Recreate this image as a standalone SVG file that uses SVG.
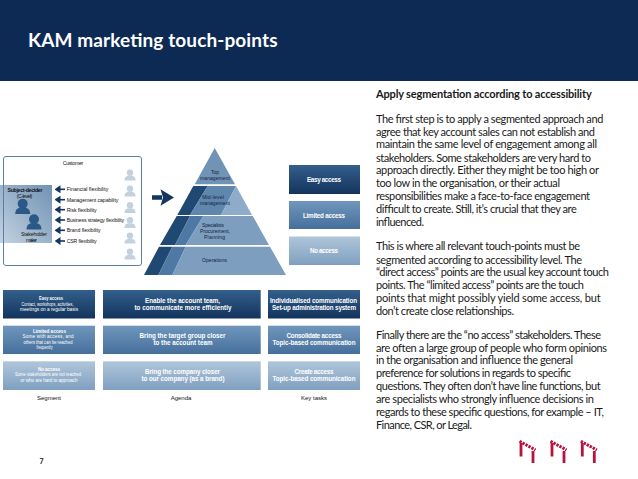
<svg xmlns="http://www.w3.org/2000/svg" xmlns:xlink="http://www.w3.org/1999/xlink" width="638" height="479" viewBox="0 0 638 479">
<style>
text{font-family:"Lato","Liberation Sans",sans-serif}
.b{font-size:11px;fill:#1a1a1a}
.w{font-family:"Liberation Sans",sans-serif;font-size:6.3px;font-weight:700;fill:#fff;text-anchor:middle}
.s{font-family:"Liberation Sans",sans-serif;font-size:4.6px;fill:#fff;text-anchor:middle}
.sh{font-family:"Liberation Sans",sans-serif;font-size:4.7px;font-weight:700;fill:#fff;text-anchor:middle}
.d{font-family:"Liberation Sans",sans-serif;font-size:5.2px;fill:#111}
.l{font-family:"Liberation Sans",sans-serif;font-size:6px;fill:#111;text-anchor:middle}
.c{text-anchor:middle}
.p{font-family:"Liberation Sans",sans-serif;font-size:5px;fill:#10233f;text-anchor:middle}
</style>
<defs>
<linearGradient id="g1" x1="0" y1="0" x2="0" y2="1"><stop offset="0" stop-color="#345f8c"/><stop offset="1" stop-color="#12345c"/></linearGradient>
<linearGradient id="g2" x1="0" y1="0" x2="0" y2="1"><stop offset="0" stop-color="#7096bb"/><stop offset="1" stop-color="#456f9c"/></linearGradient>
<linearGradient id="g3" x1="0" y1="0" x2="0" y2="1"><stop offset="0" stop-color="#b0c6da"/><stop offset="1" stop-color="#7f9fc0"/></linearGradient>
<linearGradient id="gp" x1="0" y1="1" x2="1" y2="0"><stop offset="0" stop-color="#c3d3e1"/><stop offset="1" stop-color="#7191b2"/></linearGradient>
<marker id="ah" markerUnits="userSpaceOnUse" markerWidth="6" markerHeight="8" refX="0.5" refY="4" orient="auto"><path d="M0 0L6 4L0 8Z" fill="#13355e"/></marker>
<g id="pale"><circle cx="0" cy="-2.2" r="3.2" fill="#c3d1de"/><path d="M-5.5 5.5C-5.5 1.5-3 .8 0 .8S5.5 1.5 5.5 5.5Z" fill="#c3d1de"/></g>
<g id="dark"><circle cx="0" cy="-2.8" r="5" fill="#2b5987"/><path d="M-7.5 7.5C-7.5 2-4 1 0 1S7.5 2 7.5 7.5Z" fill="#2b5987"/></g>
<g id="mark" fill="none" stroke="#b9123f"><path d="M519.5 441.2L535.5 450" stroke-width="3" stroke-dasharray="2.4 1"/><path d="M521 443V456.5M533 451V463" stroke-width="2.8"/></g>
</defs>
<rect width="638" height="479" fill="#fff"/>
<g id="header"><rect width="638" height="81" fill="#0c2a54"/><text x="28" y="46.5" font-size="19" font-weight="700" fill="#fff" textLength="249.5" lengthAdjust="spacing">KAM marketing touch-points</text></g>

<g id="customer">
<rect x="3.5" y="156.5" width="138" height="109" rx="2.5" fill="#fff" stroke="#5b80a6" stroke-width="1"/>
<rect x="0" y="185" width="52" height="58" fill="url(#gp)"/>
<path d="M3.5 185V243" stroke="#5b80a6" stroke-width="1"/>
<text class="d c" x="73" y="164.5" textLength="20.7">Customer</text>
<text class="d c" x="25" y="191.5" font-weight="700" textLength="35">Subject-decider</text>
<text class="d c" x="24.5" y="197.8" textLength="15.7">(C-level)</text>
<use xlink:href="#dark" x="22.7" y="206.5"/>
<use xlink:href="#dark" x="34" y="222"/>
<text class="d c" x="34" y="235.6" textLength="26">Stakeholder</text>
<text class="d c" x="31.5" y="241.5" textLength="11">maker</text>
<use xlink:href="#pale" x="130" y="175"/><use xlink:href="#pale" x="130" y="191"/><use xlink:href="#pale" x="130" y="207.5"/><use xlink:href="#pale" x="130" y="222.5"/><use xlink:href="#pale" x="130" y="238"/><use xlink:href="#pale" x="130" y="254"/>
<text class="d" x="66.7" y="191.2" textLength="41.7">Financial flexibility</text>
<text class="d" x="66.7" y="201.5" textLength="51.7">Management capability</text>
<text class="d" x="66.7" y="211.5" textLength="30">Risk flexibility</text>
<text class="d" x="66.7" y="221.8" textLength="57.3">Business strategy flexibility</text>
<text class="d" x="66.7" y="232.2" textLength="34">Brand flexibility</text>
<text class="d" x="66.7" y="242.8" textLength="30">CSR flexibility</text>
</g>

<g id="connectors" stroke="#13355e" fill="none" stroke-width="1.6">
<path d="M65 189.3H60" marker-end="url(#ah)"/><path d="M65 199.7H60" marker-end="url(#ah)"/><path d="M65 209.7H60" marker-end="url(#ah)"/><path d="M65 220H60" marker-end="url(#ah)"/><path d="M65 230.3H60" marker-end="url(#ah)"/><path d="M65 241H60" marker-end="url(#ah)"/>
<path d="M152 197.5H162" stroke-width="4.5"/><path d="M160.5 189.3L174 197.5L160.5 205.7L163 197.5Z" fill="#13355e" stroke="none"/>
</g>

<g id="pyramid">
<polygon points="214.7,148 235,184.3 194.7,184.3" fill="#7193b5"/>
<polygon points="193.3,186 207.7,186 190,215 177.3,215" fill="#1f4872"/>
<polygon points="207.7,186 236,186 221,215 190,215" fill="#5f86ad"/>
<polygon points="236,186 252,215 221,215" fill="#8eacc9"/>
<polygon points="176.7,216 190,216 175,245 160,245" fill="#1f4872"/>
<polygon points="190,216 203.3,216 185.7,245 175,245" fill="#4f79a4"/>
<polygon points="203.3,216 252.7,216 269,245 185.7,245" fill="#7d9ebe"/>
<polygon points="159,246.7 172.3,246.7 158.3,275 144,275" fill="#1f4872"/>
<polygon points="172.3,246.7 185.7,246.7 172.3,275 158.3,275" fill="#4f79a4"/>
<polygon points="185.7,246.7 270,246.7 286,275 172.3,275" fill="#7d9ebe"/>
<text class="p" x="215" y="173.5" textLength="8">Top</text><text class="p" x="215" y="180" textLength="30">management</text>
<text class="p" x="213" y="199" textLength="21.7">Mid-level</text><text class="p" x="215" y="205.2" textLength="30">management</text>
<text class="p" x="213" y="227" textLength="22">Specialists</text><text class="p" x="215" y="232.9" textLength="30">Procurement,</text><text class="p" x="214.5" y="238.8" textLength="21">Planning</text>
<text class="p" x="214.5" y="262" textLength="25">Operations</text>
</g>

<g id="easy-access"><rect x="289" y="165" width="71" height="29" fill="url(#g1)"/><text class="w" x="324" y="181.5" textLength="34">Easy access</text></g>
<g id="limited-access"><rect x="289" y="201" width="71" height="28" fill="url(#g2)"/><text class="w" x="324" y="217.5" textLength="42">Limited access</text></g>
<g id="no-access"><rect x="289" y="236.5" width="71" height="28.5" fill="url(#g3)"/><text class="w" x="324" y="253" textLength="28">No access</text></g>

<g id="segment-easy"><rect x="3" y="290" width="92" height="28.5" fill="url(#g1)"/><text class="sh" x="51" y="300" textLength="24" lengthAdjust="spacingAndGlyphs">Easy access</text><text class="s" x="47.5" y="306" textLength="52" lengthAdjust="spacingAndGlyphs">Contact, workshops, activities,</text><text class="s" x="49" y="311.4" textLength="58" lengthAdjust="spacingAndGlyphs">meetings on a regular basis</text></g>
<g id="segment-limited"><rect x="3" y="325.7" width="92" height="28.3" fill="url(#g2)"/><text class="sh" x="49.5" y="332.5" textLength="33">Limited access</text><text class="s" x="48" y="338.4" textLength="51">Some with access, and</text><text class="s" x="48" y="343.8" textLength="49" lengthAdjust="spacingAndGlyphs">others that can be reached</text><text class="s" x="44.5" y="349.2" textLength="16" lengthAdjust="spacingAndGlyphs">frequently</text></g>
<g id="segment-no"><rect x="3" y="361.3" width="92" height="28.7" fill="url(#g3)"/><text class="sh" x="49" y="371" textLength="22">No access</text><text class="s" x="48" y="376.4" textLength="66" lengthAdjust="spacingAndGlyphs">Some stakeholders are not reached</text><text class="s" x="49" y="382" textLength="57" lengthAdjust="spacingAndGlyphs">or who are hard to approach</text></g>

<g id="agenda-easy"><rect x="103" y="290" width="157.7" height="28.5" fill="url(#g1)"/><text class="w" x="182.5" y="303" textLength="75">Enable the account team,</text><text class="w" x="183" y="310.4" textLength="97">to communicate more efficiently</text></g>
<g id="agenda-limited"><rect x="103" y="325.7" width="157.7" height="28.3" fill="url(#g2)"/><text class="w" x="182.5" y="338" textLength="86">Bring the target group closer</text><text class="w" x="183" y="345.4" textLength="59">to the account team</text></g>
<g id="agenda-no"><rect x="103" y="361.3" width="157.7" height="28.7" fill="url(#g3)"/><text class="w" x="182.5" y="373.8" textLength="75">Bring the company closer</text><text class="w" x="183" y="381.4" textLength="83">to our company (as a brand)</text></g>

<g id="tasks-easy"><rect x="268" y="290" width="92" height="28.5" fill="url(#g1)"/><text class="w" x="313.5" y="303" textLength="87">Individualised communication</text><text class="w" x="314" y="310.4" textLength="84">Set-up administration system</text></g>
<g id="tasks-limited"><rect x="268" y="325.7" width="92" height="28.3" fill="url(#g2)"/><text class="w" x="314" y="338" textLength="55">Consolidate access</text><text class="w" x="314" y="345.4" textLength="83">Topic-based communication</text></g>
<g id="tasks-no"><rect x="268" y="361.3" width="92" height="28.7" fill="url(#g3)"/><text class="w" x="314" y="373.8" textLength="39">Create access</text><text class="w" x="314" y="381.4" textLength="83">Topic-based communication</text></g>

<g id="column-labels"><text class="l" x="49" y="399.5">Segment</text><text class="l" x="181" y="399.5">Agenda</text><text class="l" x="314" y="399.5">Key tasks</text></g>

<g id="body">
<text class="b" x="376" y="98" font-weight="700" textLength="215.7">Apply segmentation according to accessibility</text>
<text class="b" x="376" y="122.5" textLength="227.3">The first step is to apply a segmented approach and</text>
<text class="b" x="376" y="135.7" textLength="219">agree that key account sales can not establish and</text>
<text class="b" x="376" y="148.3" textLength="221">maintain the same level of engagement among all</text>
<text class="b" x="376" y="161.7" textLength="215">stakeholders. Some stakeholders are very hard to</text>
<text class="b" x="376" y="174" textLength="223">approach directly. Either they might be too high or</text>
<text class="b" x="376" y="186.5" textLength="184">too low in the organisation, or their actual</text>
<text class="b" x="376" y="199.7" textLength="214">responsibilities make a face-to-face engagement</text>
<text class="b" x="376" y="212.5" textLength="200.7">difficult to create. Still, it’s crucial that they are</text>
<text class="b" x="376" y="225.5" textLength="48">influenced.</text>
<text class="b" x="376" y="250" textLength="204">This is where all relevant touch-points must be</text>
<text class="b" x="376" y="263.5" textLength="206">segmented according to accessibility level. The</text>
<text class="b" x="376" y="276" textLength="233">“direct access” points are the usual key account touch</text>
<text class="b" x="376" y="288.5" textLength="208">points. The “limited access” points are the touch</text>
<text class="b" x="376" y="301.7" textLength="224.7">points that might possibly yield some access, but</text>
<text class="b" x="376" y="314.5" textLength="138">don’t create close relationships.</text>
<text class="b" x="376" y="339" textLength="225">Finally there are the “no access” stakeholders. These</text>
<text class="b" x="376" y="351.5" textLength="231">are often a large group of people who form opinions</text>
<text class="b" x="376" y="364" textLength="197">in the organisation and influence the general</text>
<text class="b" x="376" y="377" textLength="195">preference for solutions in regards to specific</text>
<text class="b" x="376" y="390" textLength="224.7">questions. They often don’t have line functions, but</text>
<text class="b" x="376" y="403.3" textLength="218">are specialists who strongly influence decisions in</text>
<text class="b" x="376" y="416" textLength="228">regards to these specific questions, for example – IT,</text>
<text class="b" x="376" y="428.8" textLength="96">Finance, CSR, or Legal.</text>
</g>

<g id="page-number"><text x="39.5" y="463.5" font-size="7" font-weight="700" fill="#222">7</text></g>
<g id="logos"><use xlink:href="#mark"/><use xlink:href="#mark" x="31"/><use xlink:href="#mark" x="61.3"/></g>
</svg>
